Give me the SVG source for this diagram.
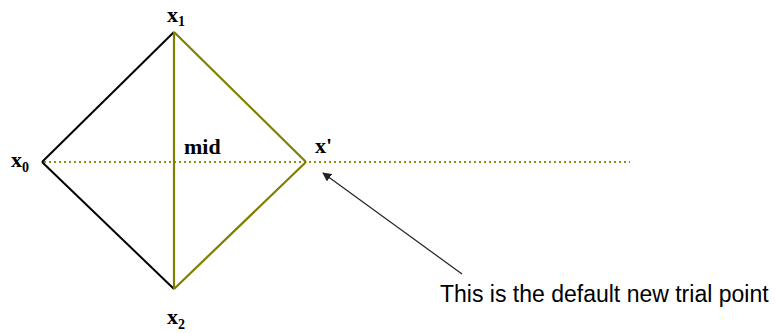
<svg xmlns="http://www.w3.org/2000/svg" width="777" height="333" viewBox="0 0 777 333">
<style>
.lbl{font-family:"Liberation Serif",serif;font-weight:bold;font-size:22px;fill:#000}
.sub{font-size:14px}
.blk{stroke:#000;stroke-width:2;fill:none}
.olv{stroke:#7f7f00;stroke-width:2.2;fill:none}
.dot{stroke:#8f8f10;stroke-width:2;stroke-dasharray:2 3;fill:none}
.note{font-family:"Liberation Sans",sans-serif;font-size:23px;fill:#000}
</style>
<defs>
<marker id="ah" viewBox="0 0 10 10" refX="9" refY="5" markerWidth="9" markerHeight="9" markerUnits="userSpaceOnUse" orient="auto">
<path d="M0,0 L10,5 L0,10 z" fill="#222"/>
</marker>
</defs>
<g id="connectors">
<line class="dot" x1="44" y1="162" x2="630" y2="162"/>
<line class="blk" x1="174" y1="32" x2="42" y2="162"/>
<line class="blk" x1="42" y1="162" x2="174" y2="289"/>
<line class="olv" x1="174" y1="32" x2="174" y2="289"/>
<line class="olv" x1="174" y1="32" x2="306" y2="162"/>
<line class="olv" x1="306" y1="162" x2="174" y2="289"/>
<line x1="462" y1="274" x2="323" y2="173" stroke="#222" stroke-width="1.2" marker-end="url(#ah)"/>
</g>
<g id="x1"><text class="lbl" x="167" y="22">x<tspan class="sub" dy="4">1</tspan></text></g>
<g id="x0"><text class="lbl" x="11" y="167">x<tspan class="sub" dy="5">0</tspan></text></g>
<g id="x2"><text class="lbl" x="167" y="324">x<tspan class="sub" dy="5">2</tspan></text></g>
<g id="mid"><text class="lbl" x="184" y="154">mid</text></g>
<g id="xprime"><text class="lbl" x="315" y="153">x'</text></g>
<g id="note"><text class="note" x="440" y="302">This is the default new trial point</text></g>
</svg>
